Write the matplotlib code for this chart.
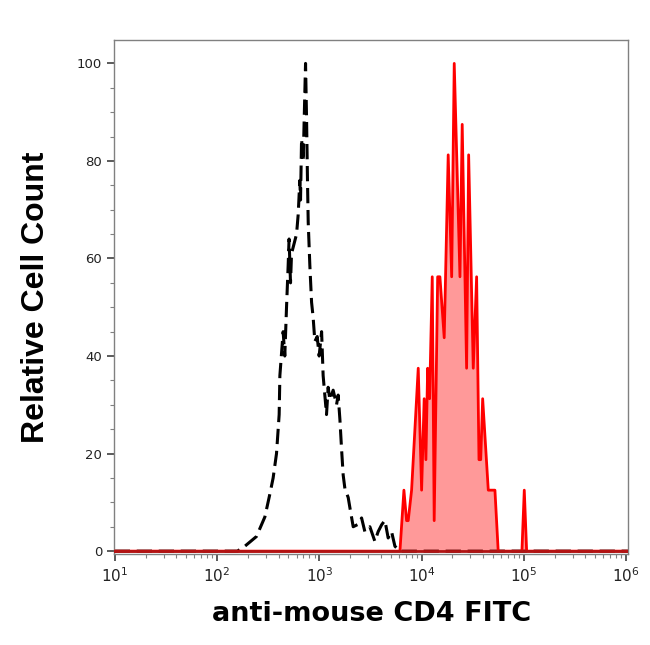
import numpy as np
import matplotlib
matplotlib.use("Agg")
import matplotlib.pyplot as plt
from matplotlib.ticker import LogLocator, MultipleLocator, LogFormatterSciNotation

# ---- data (fluorescence as log10 exponent, relative count %) ----
black_log10 = [1.0, 2.20, 2.272, 2.386, 2.468, 2.517, 2.549, 2.582, 2.608, 2.615, 2.647,
               2.663, 2.680, 2.696, 2.705, 2.719, 2.729, 2.778, 2.794, 2.810, 2.817,
               2.827, 2.843, 2.859, 2.866, 2.876, 2.885, 2.892, 2.908, 2.925, 2.940,
               2.957, 2.980, 2.999, 3.023, 3.038, 3.071, 3.087, 3.104, 3.136, 3.169,
               3.185, 3.202, 3.218, 3.234, 3.251, 3.283, 3.299, 3.332, 3.381, 3.414,
               3.446, 3.495, 3.544, 3.576, 3.610, 3.642, 3.674, 3.707, 3.740, 3.789, 6.03]
black_count = [0, 0, 1, 3, 7, 11.7, 15, 20, 28, 36, 45,
               40, 50, 58.6, 64, 55, 61, 65, 69, 76, 72,
               84.5, 80, 94, 100, 88.6, 76, 67.5, 58.6, 51, 48,
               43, 44, 40, 45, 36, 28, 33.6, 31, 33, 30,
               32, 27, 21, 15.6, 12.8, 11, 9, 5, 5.5, 6.8,
               4, 5, 2, 4, 5.4, 6.3, 2.7, 4, 1, 0, 0]

red_log10 = [1.0, 3.789, 3.828, 3.854, 3.870, 3.903, 3.968, 4.001, 4.026, 4.043, 4.060,
             4.079, 4.105, 4.124, 4.158, 4.180, 4.222, 4.261, 4.295, 4.320, 4.376,
             4.398, 4.441, 4.461, 4.506, 4.539, 4.562, 4.579, 4.598, 4.653, 4.718,
             4.750, 4.982, 5.005, 5.028, 6.03]
red_count = [0, 0, 12.5, 6.25, 6.25, 12.5, 37.5, 12.5, 31.25, 18.75, 37.5,
             31.25, 56.25, 6.25, 56.25, 56.25, 43.75, 81.25, 56.25, 100, 56.25,
             87.5, 37.5, 81.25, 37.5, 56.25, 18.75, 18.75, 31.25, 12.5, 12.5,
             0, 0, 12.5, 0, 0]

x_label = "anti-mouse CD4 FITC"
y_label = "Relative Cell Count"

black_x = np.power(10.0, black_log10)
red_x = np.power(10.0, red_log10)

fig = plt.figure(figsize=(6.5, 6.45), dpi=100)
ax = fig.add_axes([0.1754, 0.141, 0.7915, 0.797])

ax.plot(black_x, black_count, color="black", lw=2.2, dashes=(5, 2.2),
        solid_joinstyle="miter", zorder=2)
ax.fill_between(red_x, red_count, 0, color="#ff0000", alpha=0.4, lw=0, zorder=3)
ax.plot(red_x, red_count, color="#ff0000", lw=2.0, zorder=4)
ax.axhline(0, color="#b01414", lw=2.0, zorder=4.5)

ax.set_xscale("log")
ax.set_xlim(10 ** 0.993, 10 ** 6.024)
ax.set_ylim(-0.6, 104.8)

ax.xaxis.set_major_locator(LogLocator(base=10, numticks=10))
ax.xaxis.set_minor_locator(LogLocator(base=10, subs=np.arange(2, 10), numticks=20))
ax.xaxis.set_major_formatter(LogFormatterSciNotation())
ax.yaxis.set_major_locator(MultipleLocator(20))
ax.yaxis.set_minor_locator(MultipleLocator(5))

for s in ax.spines.values():
    s.set_color("#808080")
    s.set_linewidth(1.0)

ax.tick_params(which="major", length=5, width=1.2, color="#404040",
               labelsize=9.5, labelcolor="#222222", direction="out")
ax.tick_params(axis="x", which="major", labelsize=11, pad=4)
ax.tick_params(which="minor", length=3, width=0.8, color="#808080", direction="out")

ax.set_xlabel(x_label, fontsize=19.5, fontweight="bold", family="DejaVu Sans",
              labelpad=11)
ax.set_ylabel(y_label, fontsize=23, fontweight="bold", family="Liberation Sans",
              labelpad=19)

fig.savefig("out.png", dpi=100, facecolor="white")
